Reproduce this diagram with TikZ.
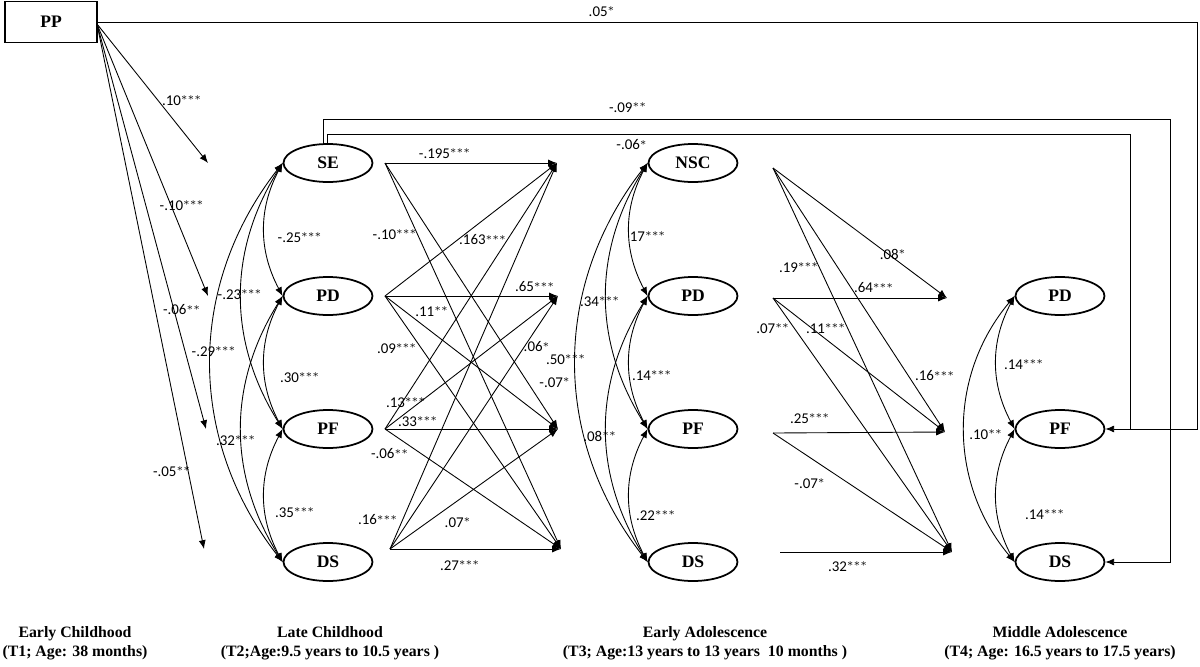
\documentclass[tikz,border=0pt]{standalone}
\usepackage{fontspec}
\setmainfont{Liberation Serif}
\newfontfamily\labfont{Carlito}
\usetikzlibrary{arrows.meta,shapes.geometric}
\begin{document}
\begin{tikzpicture}[x=0.02cm,y=-0.02cm,
 ell/.style={ellipse,draw,line width=1pt,minimum width=1.78cm,minimum height=0.76cm,inner sep=0pt,font=\bfseries\fontsize{10}{12}\selectfont},
 lab/.style={font=\labfont\fontsize{8.5}{10}\selectfont,inner sep=1pt},
 captxt/.style={font=\bfseries\fontsize{9}{11}\selectfont,align=center},
 ar/.style={-{Latex[length=5pt,width=4pt]},line width=0.5pt},
 cov/.style={{Latex[length=5pt,width=4pt]}-{Latex[length=5pt,width=4pt]},line width=0.5pt},
 plainln/.style={line width=0.5pt}]
\useasboundingbox (0,0) rectangle (1200,666);
% nodes
\node[draw,line width=0.7pt,minimum width=1.84cm,minimum height=0.82cm,font=\bfseries\fontsize{10}{12}\selectfont] (PP) at (51,22) {PP};
\node[ell] (SE) at (328,163) {SE};
\node[ell] (PD2) at (328,296) {PD};
\node[ell] (PF2) at (328,429) {PF};
\node[ell] (DS2) at (328,562) {DS};
\node[ell] (NSC) at (693,163) {NSC};
\node[ell] (PD3) at (693,296) {PD};
\node[ell] (PF3) at (693,429) {PF};
\node[ell] (DS3) at (693,562) {DS};
\node[ell] (PD4) at (1060,296) {PD};
\node[ell] (PF4) at (1060,429) {PF};
\node[ell] (DS4) at (1060,562) {DS};
% PP free ends
\coordinate (pp) at (97,24);
\coordinate (t1) at (208,163); \coordinate (t2) at (208,296);
\coordinate (t3) at (206,429); \coordinate (t4) at (204,549);
\foreach \t in {t1,t2,t3,t4} \draw[ar] (pp) -- (\t);
\node[lab] (l1) at (182,101) {.10$^{***}$};
\node[lab] (l2) at (182,206) {-.10$^{***}$};
\node[lab] (l3) at (182,310) {-.06$^{**}$};
\node[lab] (l4) at (172,472) {-.05$^{**}$};
% T2 -> T3
\coordinate (s1) at (385,163); \coordinate (s2) at (385,296);
\coordinate (s3) at (385,429); \coordinate (s4) at (390,549);
\coordinate (e1) at (557,163); \coordinate (e2) at (558,296);
\coordinate (e3) at (558,429); \coordinate (e4) at (561,549);
\foreach \a/\b in {s1/e1,s1/e3,s1/e4,s2/e1,s2/e2,s2/e3,s2/e4,s3/e1,s3/e2,s3/e3,s3/e4,s4/e1,s4/e2,s4/e3,s4/e4}
  \draw[ar] (\a) -- (\b);
\node[lab] (m1) at (445,154) {-.195$^{***}$};
\node[lab] (m2) at (395,235) {-.10$^{***}$};
\node[lab] (m3) at (483,240) {.163$^{***}$};
\node[lab] (m4) at (535,287) {.65$^{***}$};
\node[lab] (m5) at (432,312) {.11$^{**}$};
\node[lab] (m6) at (397,349) {.09$^{***}$};
\node[lab] (m7) at (537,347) {.06$^{*}$};
\node[lab] (m8) at (555,383) {-.07$^{*}$};
\node[lab] (m9) at (406,403) {.13$^{***}$};
\node[lab] (m10) at (418,422) {.33$^{***}$};
\node[lab] (m11) at (390,454) {-.06$^{**}$};
\node[lab] (m12) at (378,520) {.16$^{***}$};
\node[lab] (m13) at (458,523) {.07$^{*}$};
\node[lab] (m14) at (460,566) {.27$^{***}$};
% T3 -> T4
\coordinate (u1) at (773,168); \coordinate (u2) at (773,298);
\coordinate (u3) at (773,433); \coordinate (u4) at (780,552);
\coordinate (v2) at (947,298); \coordinate (v3) at (945,432); \coordinate (v4) at (952,552);
\foreach \a/\b in {u1/v2,u1/v3,u1/v4,u2/v2,u2/v3,u2/v4,u3/v3,u3/v4,u4/v4}
  \draw[ar] (\a) -- (\b);
\node[lab] (n1) at (893,254) {.08$^{*}$};
\node[lab] (n2) at (799,268) {.19$^{***}$};
\node[lab] (n3) at (874,288) {.64$^{***}$};
\node[lab] (n4) at (773,329) {.07$^{**}$};
\node[lab] (n5) at (826,329) {.11$^{***}$};
\node[lab] (n6) at (935,376) {.16$^{***}$};
\node[lab] (n7) at (810,419) {.25$^{***}$};
\node[lab] (n8) at (810,484) {-.07$^{*}$};
\node[lab] (n9) at (848,567) {.32$^{***}$};
% long feedback lines
\coordinate (c0) at (97,22);
\coordinate (c1) at (1197,22); \coordinate (c2) at (1197,429);
\draw[ar] (c0) -- (c1) -- (c2) -- (PF4.east);
\node[lab] (k1) at (602,12) {.05$^{*}$};
\coordinate (c3a) at (323,145);
\coordinate (c3) at (323,119); \coordinate (c4) at (1170,119); \coordinate (c5) at (1170,562);
\draw[ar] (c3a) -- (c3) -- (c4) -- (c5) -- (DS4.east);
\node[lab] (k2) at (628,108) {-.09$^{**}$};
\coordinate (c6a) at (327,145);
\coordinate (c6) at (327,134); \coordinate (c7) at (1130,134); \coordinate (c8) at (1130,429);
\draw[plainln] (c6a) -- (c6) -- (c7) -- (c8);
\node[lab] (k3) at (632,145) {-.06$^{*}$};
% covariances T2
\draw[cov] (SE.west) to[bend right=28] (PD2.west);
\draw[cov] (PD2.west) to[bend right=28] (PF2.west);
\draw[cov] (PF2.west) to[bend right=28] (DS2.west);
\draw[cov] (SE.west) to[bend right=32] (PF2.west);
\draw[cov] (PD2.west) to[bend right=32] (DS2.west);
\draw[cov] (SE.west) to[bend right=38] (DS2.west);
\node[lab] (a1) at (300,238) {-.25$^{***}$};
\node[lab] (a2) at (300,378) {.30$^{***}$};
\node[lab] (a3) at (295,513) {.35$^{***}$};
\node[lab] (a4) at (240,295) {-.23$^{***}$};
\node[lab] (a5) at (236,441) {.32$^{***}$};
\node[lab] (a6) at (214,352) {-.29$^{***}$};
% covariances T3
\draw[cov] (NSC.west) to[bend right=28] (PD3.west);
\draw[cov] (PD3.west) to[bend right=28] (PF3.west);
\draw[cov] (PF3.west) to[bend right=28] (DS3.west);
\draw[cov] (NSC.west) to[bend right=32] (PF3.west);
\draw[cov] (PD3.west) to[bend right=32] (DS3.west);
\draw[cov] (NSC.west) to[bend right=38] (DS3.west);
\node[lab] (b1) at (648,237) {17$^{***}$};
\node[lab] (b2) at (652,376) {.14$^{***}$};
\node[lab] (b3) at (656,516) {.22$^{***}$};
\node[lab] (b4) at (600,302) {.34$^{***}$};
\node[lab] (b5) at (600,436) {.08$^{**}$};
\node[lab] (b6) at (566,360) {.50$^{***}$};
% covariances T4
\draw[cov] (PD4.west) to[bend right=28] (PF4.west);
\draw[cov] (PF4.west) to[bend right=28] (DS4.west);
\draw[cov] (PD4.west) to[bend right=40] (DS4.west);
\node[lab] (d1) at (1024,365) {.14$^{***}$};
\node[lab] (d2) at (1045,515) {.14$^{***}$};
\node[lab] (d3) at (986,435) {.10$^{**}$};
% captions
\node[captxt] (cap1) at (75,643) {Early Childhood\\(T1; Age: 38 months)};
\node[captxt] (cap2) at (330,643) {Late Childhood\\(T2;Age:9.5 years to 10.5 years )};
\node[captxt] (cap3) at (705,643) {Early Adolescence\\(T3; Age:13 years to 13 years \ 10 months )};
\node[captxt] (cap4) at (1060,643) {Middle Adolescence\\(T4; Age: 16.5 years to 17.5 years)};
\end{tikzpicture}
\end{document}
